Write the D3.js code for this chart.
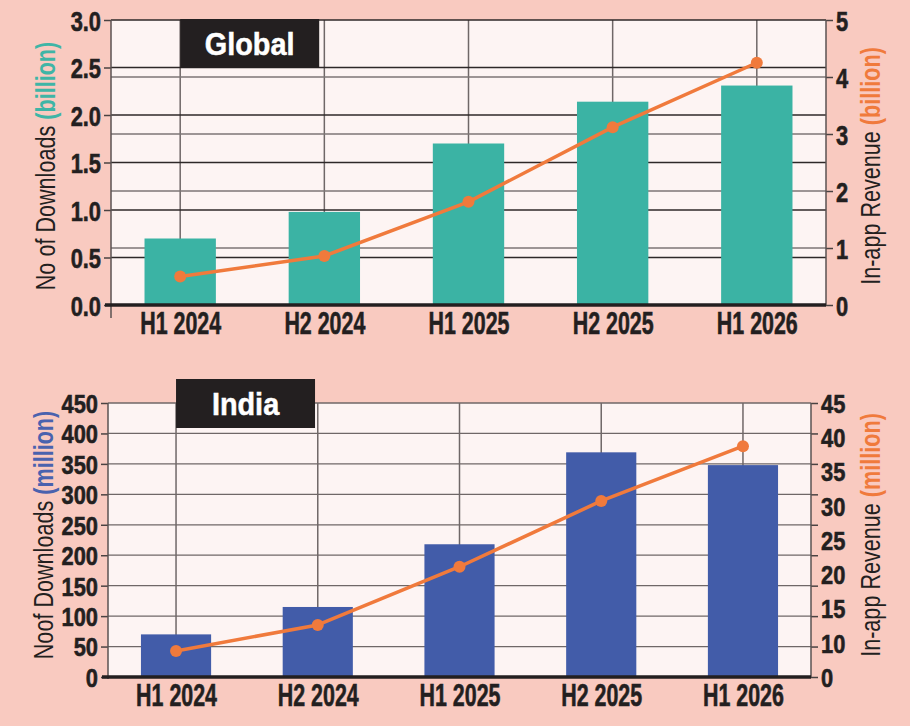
<!DOCTYPE html>
<html><head><meta charset="utf-8">
<script src="https://cdn.jsdelivr.net/npm/d3@7"></script>
<style>
body{margin:0;background:#f9cac0;}
svg{display:block}
.tk text{font-family:"Liberation Sans",Arial,sans-serif;font-weight:700;fill:#231f20;stroke:#231f20;stroke-width:0.6px;}
</style></head><body>
<svg id="c" width="910" height="726"></svg>
<script>
// ---- data ----
const categories = ["H1 2024","H2 2024","H1 2025","H2 2025","H1 2026"];
const globalDownloads = [0.7, 0.98, 1.7, 2.14, 2.31];   // billion
const globalRevenue   = [0.5, 0.86, 1.81, 3.12, 4.25];  // billion
const indiaDownloads  = [70, 115, 218, 369, 348];       // million
const indiaRevenue    = [7.6, 12.6, 21.1, 30.7, 38.7];  // million
const globalLeftTicks  = [0, 0.5, 1, 1.5, 2, 2.5, 3];
const globalRightTicks = [0, 1, 2, 3, 4, 5];
const indiaLeftTicks   = [0, 50, 100, 150, 200, 250, 300, 350, 400, 450];
const indiaRightTicks  = [0, 10, 15, 20, 25, 30, 35, 40, 45];

const svg = d3.select("#c");
svg.append("rect").attr("width",910).attr("height",726).attr("fill","#f9cac0");

const INK = "#231f20", ORANGE = "#f07a3c";

// horizontally condense text (the original uses a condensed face)
function condense(sel, r){
  sel.each(function(){
    const L = this.getComputedTextLength();
    d3.select(this).attr("textLength", L*r).attr("lengthAdjust","spacingAndGlyphs");
  });
}

function panel(o){
  const g = svg.append("g");
  const x = d3.scalePoint().domain(categories).range([o.left, o.right]).padding(0.48);
  const step = x.step();
  const yL = d3.scaleLinear().domain([0, d3.max(o.leftTicks)]).range([o.bottom, o.top]);
  const yR = o.makeRight(o);

  g.append("rect").attr("x",o.left).attr("y",o.top)
    .attr("width",o.right-o.left).attr("height",o.bottom-o.top).attr("fill","#fdf4f3");

  // vertical grid
  g.selectAll(null).data(categories).join("line")
    .attr("x1",d=>x(d)).attr("x2",d=>x(d)).attr("y1",o.top).attr("y2",o.bottom)
    .attr("stroke","#6f6767").attr("stroke-width",1.5);
  // horizontal grid (left)
  g.selectAll(null).data(o.leftTicks.filter(v=>v>0)).join("line")
    .attr("x1",o.left).attr("x2",o.right).attr("y1",d=>yL(d)).attr("y2",d=>yL(d))
    .attr("stroke",o.leftGridColor).attr("stroke-width",1.3);
  // horizontal grid (right)
  if (o.rightGrid){
    g.selectAll(null).data(o.rightTicks.filter(v=>v>0 && v<d3.max(o.rightTicks))).join("line")
      .attr("x1",o.left).attr("x2",o.right).attr("y1",d=>yR(d)).attr("y2",d=>yR(d))
      .attr("stroke","#7d7676").attr("stroke-width",1.6);
  }
  // bars
  const bw = step*0.495;
  g.selectAll(null).data(o.downloads).join("rect")
    .attr("x",(d,i)=>x(categories[i])-bw/2).attr("width",bw)
    .attr("y",d=>yL(d)).attr("height",d=>o.bottom-yL(d))
    .attr("fill",o.barColor);
  // title box
  const bx = x(categories[0]);
  g.append("rect").attr("x",bx).attr("y",o.boxTop).attr("width",139).attr("height",49).attr("fill","#231f20");
  g.append("text").attr("x",bx+69.5).attr("y",o.boxTop+36).attr("text-anchor","middle")
    .attr("font-family","Liberation Sans, Arial, sans-serif").attr("font-weight",700)
    .attr("font-size",31).attr("fill","#fff").attr("stroke","#fff").attr("stroke-width",0.5)
    .text(o.title).call(condense, 0.93);

  // line
  const line = d3.line().x((d,i)=>x(categories[i])).y(d=>yR(d));
  g.append("path").datum(o.revenue).attr("d",line).attr("fill","none")
    .attr("stroke",ORANGE).attr("stroke-width",3.5).attr("stroke-linejoin","round");
  g.selectAll(null).data(o.revenue).join("circle")
    .attr("cx",(d,i)=>x(categories[i])).attr("cy",d=>yR(d)).attr("r",6).attr("fill",ORANGE);

  // left axis
  const la = g.append("g").attr("class","tk").attr("transform",`translate(${o.left},0)`)
    .call(d3.axisLeft(yL).tickValues(o.leftTicks).tickSize(7).tickSizeOuter(0).tickPadding(3).tickFormat(o.leftFmt));
  la.select(".domain").remove();
  la.selectAll("line").attr("stroke","#4a4242").attr("stroke-width",1.5);
  la.selectAll("text").attr("font-size",o.yFont).attr("dy","0.36em").call(condense, o.yRatio);
  g.append("line").attr("x1",o.left).attr("x2",o.left).attr("y1",o.top).attr("y2",o.bottom+o.leftExt)
    .attr("stroke","#5a5252").attr("stroke-width",1.5);

  // right axis
  const ra = g.append("g").attr("class","tk").attr("transform",`translate(${o.right},0)`)
    .call(d3.axisRight(yR).tickValues(o.rightTicks).tickSize(o.rightLabelTick).tickSizeOuter(0).tickPadding(o.rightPad).tickFormat(d3.format("d")));
  ra.select(".domain").remove();
  ra.selectAll("line").attr("stroke","#4a4242").attr("stroke-width",1.5);
  ra.selectAll("text").attr("font-size",o.yFont).attr("dy","0.36em").call(condense, o.yRatio);
  if (o.rightTickMarksFromLeft){
    const rm = g.append("g").attr("transform",`translate(${o.right},0)`)
      .call(d3.axisRight(yL).tickValues(o.leftTicks).tickSize(7).tickSizeOuter(0).tickFormat(""));
    rm.select(".domain").remove();
    rm.selectAll("line").attr("stroke","#4a4242").attr("stroke-width",1.5);
  }
  g.append("line").attr("x1",o.right).attr("x2",o.right).attr("y1",o.top).attr("y2",o.bottom)
    .attr("stroke","#5a5252").attr("stroke-width",1.5);

  // bottom axis
  const ba = g.append("g").attr("class","tk").attr("transform",`translate(0,${o.bottom})`)
    .call(d3.axisBottom(x).tickSize(0).tickPadding(7));
  ba.select(".domain").remove();
  ba.selectAll("text").attr("font-size",31).attr("dy","0.71em").call(condense, 0.69);
  g.append("line").attr("x1",o.left-6).attr("x2",o.right).attr("y1",o.bottom).attr("y2",o.bottom)
    .attr("stroke",INK).attr("stroke-width",3.5);

  // axis titles
  const tfont = "Liberation Sans, Arial, sans-serif";
  const lt = g.append("text").attr("transform",`translate(${o.leftTitleX},${o.titleCY}) rotate(-90)`)
    .attr("text-anchor","middle").attr("font-family",tfont)
    .attr("font-size",27).attr("fill",INK);
  lt.append("tspan").text(o.leftTitle + " ");
  lt.append("tspan").attr("font-weight",700).attr("fill",o.unitColor).text(o.unit);
  lt.call(condense, 0.8);
  const rt = g.append("text").attr("transform",`translate(${o.rightTitleX},${o.titleCY}) rotate(-90)`)
    .attr("text-anchor","middle").attr("font-family",tfont)
    .attr("font-size",27).attr("fill",INK);
  rt.append("tspan").text("In-app Revenue ");
  rt.append("tspan").attr("font-weight",700).attr("fill",ORANGE).text(o.unit);
  rt.call(condense, 0.8);
}

panel({
  left:111, right:826, top:20, bottom:305, boxTop:19, title:"Global",
  leftTicks:globalLeftTicks, rightTicks:globalRightTicks,
  downloads:globalDownloads, revenue:globalRevenue,
  barColor:"#3bb3a4", unitColor:"#3fb5a6", leftGridColor:"#2e2828", rightGrid:true,
  leftFmt:d3.format(".1f"), yFont:28, yRatio:0.78, leftExt:13,
  rightLabelTick:7, rightPad:3, rightTickMarksFromLeft:false,
  makeRight:o=>d3.scaleLinear().domain([0,d3.max(o.rightTicks)]).range([o.bottom,o.top]),
  leftTitle:"No of Downloads", unit:"(billion)", leftTitleX:55, rightTitleX:880, titleCY:166
});

panel({
  left:108, right:811, top:403, bottom:677, boxTop:379, title:"India",
  leftTicks:indiaLeftTicks, rightTicks:indiaRightTicks,
  downloads:indiaDownloads, revenue:indiaRevenue,
  barColor:"#425ca9", unitColor:"#4a62ae", leftGridColor:"#6f6767", rightGrid:false,
  leftFmt:d3.format("d"), yFont:26, yRatio:0.84, leftExt:2,
  rightLabelTick:0, rightPad:10, rightTickMarksFromLeft:true,
  // revenue labels are evenly spaced on the right: 0,10,15,...,45
  makeRight:o=>{const h=o.bottom-o.top; return d3.scaleLinear().domain([0,10,45]).range([o.bottom,o.bottom-h/8,o.top]);},
  leftTitle:"Noof Downloads", unit:"(million)", leftTitleX:53, rightTitleX:880, titleCY:535
});
</script>
</body></html>
